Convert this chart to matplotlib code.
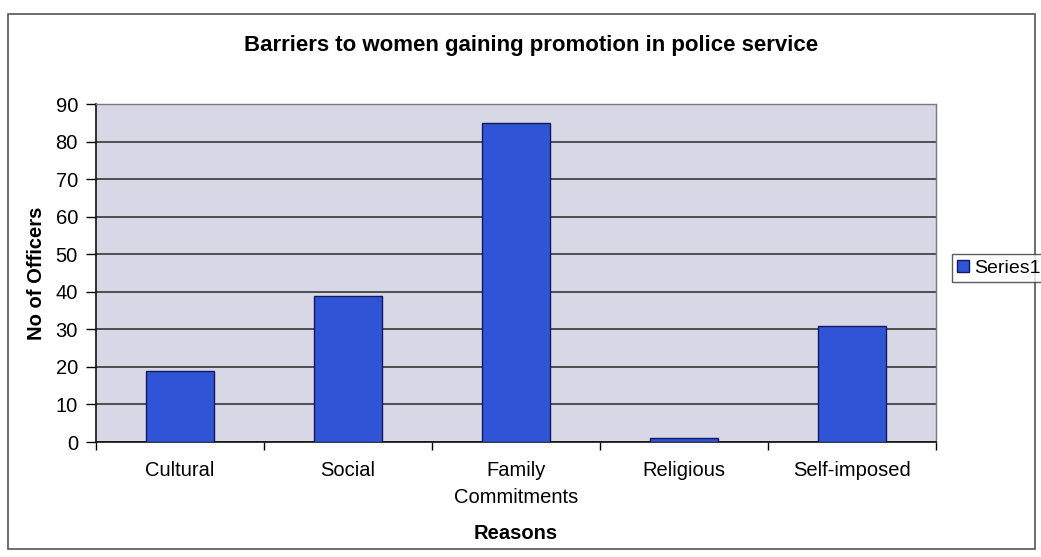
import matplotlib.pyplot as plt
from matplotlib.patches import Rectangle
from matplotlib.lines import Line2D

# Survey results: barriers to promotion
reasons = ["Cultural", "Social", "Family\nCommitments", "Religious", "Self-imposed"]
officers = [19, 39, 85, 1, 31]
y_ticks = [0, 10, 20, 30, 40, 50, 60, 70, 80, 90]
series_name = "Series1"

FONT = ["Liberation Sans Narrow", "Liberation Sans", "DejaVu Sans"]
plt.rcParams["font.family"] = FONT

bar_color = "#2f55d6"
edge_color = "#14185a"
plot_bg = "#d7d7e5"

fig = plt.figure(figsize=(10.41, 5.57), dpi=100)
W, H = 1041, 557

# outer chart frame
fig.patches.append(Rectangle((8 / W, 1 - 549 / H), 1027 / W, 535 / H,
                             transform=fig.transFigure, fill=False,
                             edgecolor="#555555", linewidth=1.2))

ax = fig.add_axes([96 / W, 1 - 442 / H, 840 / W, 338 / H])
ax.set_facecolor(plot_bg)

x = list(range(len(reasons)))
ax.bar(x, officers, width=0.41, color=bar_color, edgecolor=edge_color,
       linewidth=1.0, zorder=3, label=series_name)

ax.set_xlim(-0.5, len(reasons) - 0.5)
ax.set_ylim(0, 90)
ax.set_yticks(y_ticks)
ax.yaxis.grid(True, color="#2a2a2a", linewidth=1.1, zorder=1)
ax.set_axisbelow(True)

# category labels centred, tick marks on category boundaries
ax.set_xticks(x)
ax.set_xticklabels(reasons, fontsize=14.5, linespacing=1.5)
ax.set_xticks([i - 0.5 for i in range(len(reasons) + 1)], minor=True)
ax.tick_params(axis="x", which="major", length=0, pad=14)
ax.tick_params(axis="x", which="minor", length=6, width=1.0, direction="out")
ax.tick_params(axis="y", length=7, width=1.0, direction="out", labelsize=14.5, pad=6)

for side in ("left", "bottom"):
    ax.spines[side].set_color("#111111")
    ax.spines[side].set_linewidth(1.2)
for side in ("top", "right"):
    ax.spines[side].set_color("#7a7a7a")
    ax.spines[side].set_linewidth(1.0)

ax.set_ylabel("No of Officers", fontsize=14.5, fontweight="bold", labelpad=7)
ax.set_xlabel("Reasons", fontsize=14.5, fontweight="bold", labelpad=12)

fig.text(531 / W, 1 - 45 / H,
         "Barriers to women gaining promotion in police service",
         ha="center", va="center", fontsize=16, fontweight="bold")

handle = Line2D([], [], linestyle="none", marker="s", markersize=9,
                markerfacecolor=bar_color, markeredgecolor=edge_color)
leg = fig.legend([handle], [series_name], loc="center left",
                 bbox_to_anchor=(952 / W, 1 - 268 / H), fontsize=14,
                 frameon=True, fancybox=False, handlelength=0.6,
                 handletextpad=0.3, borderpad=0.25, borderaxespad=0)
leg.get_frame().set_edgecolor("#333333")
leg.get_frame().set_linewidth(1.0)

fig.savefig("out.png", dpi=100)
